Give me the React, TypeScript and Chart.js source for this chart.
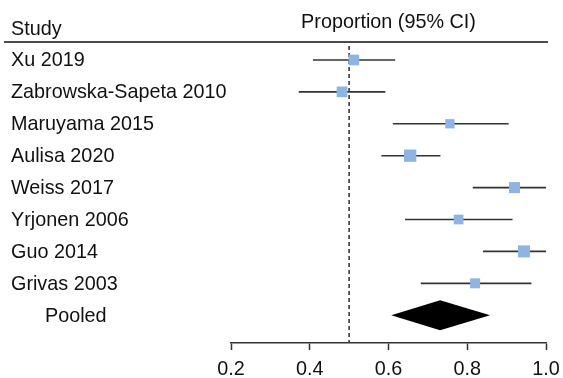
import React, { useEffect, useRef } from "react";
import { Chart, registerables } from "chart.js";

Chart.register(...registerables);

// ---- data ----
const studies = [
  "Xu 2019",
  "Zabrowska-Sapeta 2010",
  "Maruyama 2015",
  "Aulisa 2020",
  "Weiss 2017",
  "Yrjonen 2006",
  "Guo 2014",
  "Grivas 2003",
];
const estimates = [0.512, 0.482, 0.756, 0.655, 0.92, 0.778, 0.944, 0.82];
const lowerCI = [0.408, 0.372, 0.611, 0.582, 0.814, 0.642, 0.84, 0.682];
const upperCI = [0.617, 0.592, 0.905, 0.732, 1.0, 0.915, 1.0, 0.963];
const weights = [12.4, 12.4, 9.3, 16.4, 13.1, 10.2, 15.6, 10.8];
const pooledLabel = "Pooled";
const pooledEstimate = 0.731;
const pooledLower = 0.607;
const pooledUpper = 0.858;
const xTicks = [0.2, 0.4, 0.6, 0.8, 1.0];
const nullValue = 0.5;
const headerLeft = "Study";
const headerRight = "Proportion (95% CI)";

const FONT = "'Liberation Sans', Arial, Helvetica, sans-serif";
const FONT_SIZE = 19.8;

const forestPlugin = {
  id: "forest",
  beforeDatasetsDraw(chart: any) {
    const { ctx, chartArea, scales } = chart;
    const px = scales.x.getPixelForValue(nullValue);
    ctx.save();
    ctx.strokeStyle = "#444";
    ctx.lineWidth = 1.7;
    ctx.setLineDash([4, 3]);
    ctx.beginPath();
    ctx.moveTo(px, chartArea.top + 2);
    ctx.lineTo(px, chartArea.bottom);
    ctx.stroke();
    ctx.restore();
  },
  afterDatasetsDraw(chart: any) {
    const { ctx, chartArea, scales } = chart;
    const x = scales.x;
    const y = scales.y;
    ctx.save();
    // pooled diamond
    const py = y.getPixelForValue(studies.length + 1);
    const half = 15;
    ctx.fillStyle = "#000";
    ctx.beginPath();
    ctx.moveTo(x.getPixelForValue(pooledLower), py);
    ctx.lineTo(x.getPixelForValue(pooledEstimate), py - half);
    ctx.lineTo(x.getPixelForValue(pooledUpper), py);
    ctx.lineTo(x.getPixelForValue(pooledEstimate), py + half);
    ctx.closePath();
    ctx.fill();

    // header line
    ctx.strokeStyle = "#111";
    ctx.lineWidth = 1.5;
    ctx.beginPath();
    ctx.moveTo(4, chartArea.top - 2);
    ctx.lineTo(548, chartArea.top - 2);
    ctx.stroke();

    // texts
    ctx.fillStyle = "#111";
    ctx.font = `${FONT_SIZE}px ${FONT}`;
    ctx.textBaseline = "middle";
    ctx.textAlign = "left";
    ctx.fillText(headerLeft, 11, y.getPixelForValue(0) + 1);
    studies.forEach((s, i) => {
      ctx.fillText(s, 11, y.getPixelForValue(i + 1) + 1);
    });
    ctx.fillText(pooledLabel, 45, py + 1);
    ctx.textAlign = "center";
    ctx.fillText(headerRight, (chartArea.left + chartArea.right) / 2, chartArea.top - 21);
    ctx.restore();
  },
};

export default function App() {
  const ref = useRef<HTMLCanvasElement | null>(null);
  useEffect(() => {
    if (!ref.current) return;
    const ciSets = studies.map((_, i) => ({
      type: "scatter" as const,
      data: [
        { x: lowerCI[i], y: i + 1 },
        { x: upperCI[i], y: i + 1 },
      ],
      showLine: true,
      borderColor: "#333",
      borderWidth: 1.6,
      pointRadius: 0,
      clip: false as any,
      order: 2,
    }));
    const squareSet = {
      type: "scatter" as const,
      data: estimates.map((v, i) => ({ x: v, y: i + 1 })),
      pointStyle: "rect",
      pointRadius: weights.map((w) => (Math.sqrt(w) * 3.04) / Math.SQRT2),
      backgroundColor: "#8db4e3",
      borderWidth: 0,
      clip: false as any,
      order: 1,
    };
    const chart = new Chart(ref.current, {
      type: "scatter",
      data: { datasets: [squareSet as any, ...ciSets] },
      options: {
        animation: false,
        responsive: false,
        events: [],
        layout: { padding: { left: 231, right: 17, top: 44, bottom: 0 } },
        plugins: { legend: { display: false }, tooltip: { enabled: false } },
        scales: {
          x: {
            type: "linear",
            min: 0.2,
            max: 1.0,
            afterBuildTicks: (s: any) => {
              s.ticks = xTicks.map((v) => ({ value: v }));
            },
            afterFit: (s: any) => {
              s.height = 35;
              s.paddingLeft = 0;
              s.paddingRight = 0;
            },
            ticks: {
              color: "#111",
              font: { family: FONT, size: FONT_SIZE },
              padding: 8,
              maxRotation: 0,
              callback: (v: any) => Number(v).toFixed(1),
            },
            grid: {
              display: true,
              drawOnChartArea: false,
              drawTicks: true,
              tickLength: 7,
              tickColor: "#333",
              tickWidth: 1.5,
            },
            border: { display: true, color: "#333", width: 1.5 },
          },
          y: {
            type: "linear",
            display: false,
            reverse: true,
            min: 0.5,
            max: 9.87,
          },
        },
      },
      plugins: [forestPlugin],
    });
    return () => chart.destroy();
  }, []);
  return (
    <div style={{ position: "fixed", left: 0, top: 0, width: 563, height: 378, background: "#fff" }}>
      <canvas ref={ref} width={563} height={378} style={{ display: "block" }} />
    </div>
  );
}
